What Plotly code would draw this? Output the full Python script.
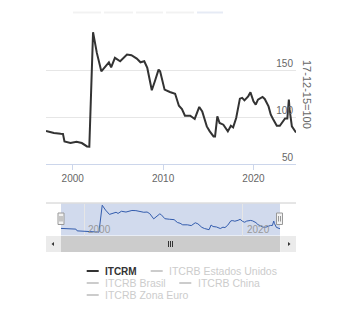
import plotly.graph_objects as go

# ---- data ----
dates = [
    "1997-01-15", "1997-12-01", "1998-09-01", "1998-12-01", "1999-02-01", "1999-10-01",
    "2000-06-01", "2001-01-01", "2001-08-01", "2001-11-01", "2002-04-01", "2002-09-01",
    "2003-03-01", "2003-08-01", "2004-01-01", "2004-04-01", "2004-09-01", "2005-04-01",
    "2005-08-01", "2006-01-01", "2006-07-01", "2007-02-01", "2007-07-01", "2007-12-01",
    "2008-04-01", "2008-10-01", "2009-02-01", "2009-07-01", "2009-09-01", "2010-03-01",
    "2010-10-01", "2011-05-01", "2011-10-01", "2012-02-01", "2012-06-01", "2013-01-01",
    "2013-07-01", "2014-01-01", "2014-05-01", "2014-11-01", "2015-03-01", "2015-08-01",
    "2015-10-01", "2016-01-01", "2016-04-01", "2016-09-01", "2017-03-01", "2017-07-01",
    "2017-10-01", "2018-02-01", "2018-07-01", "2018-10-01", "2019-01-01", "2019-06-01",
    "2019-09-01", "2020-01-01", "2020-04-01", "2020-07-01", "2021-01-01", "2021-04-01",
    "2021-09-01", "2021-12-01", "2022-03-01", "2022-08-01", "2022-12-01", "2023-03-01",
    "2023-07-01", "2023-10-01", "2023-12-01", "2024-01-01", "2024-02-01", "2024-04-01",
    "2024-09-15",
]
itcrm = [
    85.1, 83.0, 82.2, 82.0, 74.0, 72.3,
    73.7, 72.3, 68.7, 68.4, 190.2, 168.2,
    148.6, 154.0, 158.2, 152.9, 162.9, 159.3,
    162.2, 166.4, 165.7, 162.2, 158.2, 159.3,
    152.2, 128.4, 138.0, 150.4, 148.6, 129.1,
    126.6, 124.8, 112.0, 108.5, 101.4, 101.4,
    97.9, 110.7, 106.0, 90.0, 84.7, 79.3,
    79.3, 100.6, 93.6, 91.8, 84.7, 90.7,
    88.9, 98.9, 119.5, 120.3, 117.7, 122.0,
    126.2, 116.6, 113.1, 118.4, 121.3, 119.2,
    111.3, 102.5, 97.9, 90.7, 90.7, 94.2,
    98.5, 98.5, 118.4, 107.8, 98.9, 90.0,
    83.6,
]
x_tick_dates = ["2000-01-01", "2010-01-01", "2020-01-01"]
x_tick_labels = ["2000", "2010", "2020"]
nav_tick_dates = ["2000-01-01", "2020-01-01"]
nav_tick_labels = ["2000", "2020"]
y_tick_vals = [50, 100, 150, 200]
y_tick_labels = ["50", "100", "150", ""]
y_title = "17-12-15=100"
legend_names = ["ITCRM", "ITCRB Estados Unidos", "ITCRB Brasil", "ITCRB China", "ITCRB Zona Euro"]

W, H = 350, 324
FONT = "Liberation Sans, Arial, Helvetica, sans-serif"


def px(x):
    return x / W


def py(y):
    return 1 - y / H


x_range = ["1997-01-15", "2024-09-15"]

fig = go.Figure()
fig.add_trace(go.Scatter(x=dates, y=itcrm, mode="lines", xaxis="x", yaxis="y",
                         line=dict(color="#333333", width=2), hoverinfo="skip",
                         showlegend=False))
fig.add_trace(go.Scatter(x=dates, y=itcrm, mode="lines", xaxis="x2", yaxis="y2",
                         line=dict(color="#335cad", width=1), hoverinfo="skip",
                         showlegend=False))

shapes = []
annotations = []

# faint range-selector buttons at the top
btns = [(73, 101), (104, 133), (136, 163), (166, 194), (197, 223)]
for i, (a, b) in enumerate(btns):
    shapes.append(dict(type="rect", xref="paper", yref="paper", x0=px(a), x1=px(b),
                       y0=py(13.5), y1=py(11.5), line=dict(width=0),
                       fillcolor="#e6ebf5" if i == 4 else "#f2f2f2"))

# navigator outline (top line)
shapes.append(dict(type="line", xref="paper", yref="paper", x0=px(46), x1=px(296),
                   y0=py(203), y1=py(203), line=dict(color="#cccccc", width=1)))
# navigator mask (selected area)
shapes.append(dict(type="rect", xref="paper", yref="paper", x0=px(61), x1=px(280),
                   y0=py(235.5), y1=py(203.5), line=dict(width=0),
                   fillcolor="rgba(102,133,194,0.3)", layer="between"))

# scrollbar
shapes.append(dict(type="rect", xref="paper", yref="paper", x0=px(46), x1=px(296),
                   y0=py(252), y1=py(236), line=dict(width=0), fillcolor="#f2f2f2"))
shapes.append(dict(type="rect", xref="paper", yref="paper", x0=px(61), x1=px(280),
                   y0=py(252), y1=py(236), line=dict(width=0), fillcolor="#cccccc"))
for a, b in [(46, 61), (280.5, 296)]:
    shapes.append(dict(type="rect", xref="paper", yref="paper", x0=px(a), x1=px(b),
                       y0=py(252), y1=py(236), line=dict(width=0), fillcolor="#ebebeb"))
# arrows
shapes.append(dict(type="path", xref="paper", yref="paper",
                   path=f"M {px(51.5)} {py(244)} L {px(54)} {py(242)} L {px(54)} {py(246)} Z",
                   fillcolor="#333333", line=dict(width=0)))
shapes.append(dict(type="path", xref="paper", yref="paper",
                   path=f"M {px(290.5)} {py(244)} L {px(288)} {py(242)} L {px(288)} {py(246)} Z",
                   fillcolor="#333333", line=dict(width=0)))
# grip
for gx in (168.5, 170.5, 172.5):
    shapes.append(dict(type="line", xref="paper", yref="paper", x0=px(gx), x1=px(gx),
                       y0=py(241), y1=py(247), line=dict(color="#333333", width=1)))

# navigator handles
for cx in (61, 279.5):
    shapes.append(dict(type="rect", xref="paper", yref="paper", x0=px(cx - 3), x1=px(cx + 3),
                       y0=py(224.5), y1=py(213), line=dict(color="#999999", width=1),
                       fillcolor="#f2f2f2"))
    for lx in (cx - 1, cx + 1):
        shapes.append(dict(type="line", xref="paper", yref="paper", x0=px(lx), x1=px(lx),
                           y0=py(216), y1=py(221.5), line=dict(color="#999999", width=1)))

# navigator labels
for d, t in zip(nav_tick_dates, nav_tick_labels):
    annotations.append(dict(x=d, xref="x2", y=py(229.5), yref="paper", text=t,
                            showarrow=False, xanchor="left", yanchor="middle", xshift=2,
                            font=dict(family=FONT, size=10, color="#999999")))

# y-axis title
annotations.append(dict(x=px(307), y=py(94), xref="paper", yref="paper", text=y_title,
                        textangle=90, showarrow=False, xanchor="center", yanchor="middle",
                        font=dict(family=FONT, size=11, color="#666666")))

# legend (first item visible, others hidden/greyed)
legend_pos = [(86.7, 271), (150.7, 271), (86.7, 283), (179.3, 283), (86.7, 295)]
for i, (name, (lx, ly)) in enumerate(zip(legend_names, legend_pos)):
    col = "#333333" if i == 0 else "#cccccc"
    shapes.append(dict(type="line", xref="paper", yref="paper", x0=px(lx), x1=px(lx + 12),
                       y0=py(ly), y1=py(ly), line=dict(color=col, width=2)))
    txt = f"<b>{name}</b>" if i == 0 else name
    annotations.append(dict(x=px(lx + 16.5), y=py(ly), xref="paper", yref="paper", text=txt,
                            showarrow=False, xanchor="left", yanchor="middle",
                            font=dict(family=FONT, size=10 if i == 0 else 10.5, color=col)))

fig.update_layout(
    width=W, height=H, autosize=False,
    margin=dict(l=0, r=0, t=0, b=0),
    paper_bgcolor="white", plot_bgcolor="rgba(0,0,0,0)",
    showlegend=False,
    font=dict(family=FONT, size=9, color="#666666"),
    xaxis=dict(domain=[px(46), px(296)], anchor="y", type="date", range=x_range,
               tickmode="array", tickvals=x_tick_dates, ticktext=x_tick_labels,
               ticks="outside", ticklen=5, tickcolor="#ccd6eb", tickwidth=1,
               showline=True, linecolor="#ccd6eb", linewidth=1,
               showgrid=False, zeroline=False,
               tickfont=dict(family=FONT, size=10, color="#666666")),
    yaxis=dict(domain=[py(164), py(23)], anchor="x", side="right", range=[50, 200],
               tickmode="array", tickvals=y_tick_vals, ticktext=y_tick_labels,
               ticklabelposition="inside top", showgrid=True, gridcolor="#e6e6e6",
               gridwidth=1, zeroline=False, showline=False, ticks="",
               tickfont=dict(family=FONT, size=10, color="#666666")),
    xaxis2=dict(domain=[px(61), px(280)], anchor="y2", type="date", range=x_range,
                tickmode="array", tickvals=nav_tick_dates, showticklabels=False,
                showgrid=True, gridcolor="#e6e6e6", gridwidth=1, zeroline=False,
                showline=False, ticks=""),
    yaxis2=dict(domain=[py(235.5), py(203.5)], anchor="x2", range=[53, 198],
                visible=False, showgrid=False, zeroline=False),
    shapes=shapes,
    annotations=annotations,
)

fig.write_html("out.html")
